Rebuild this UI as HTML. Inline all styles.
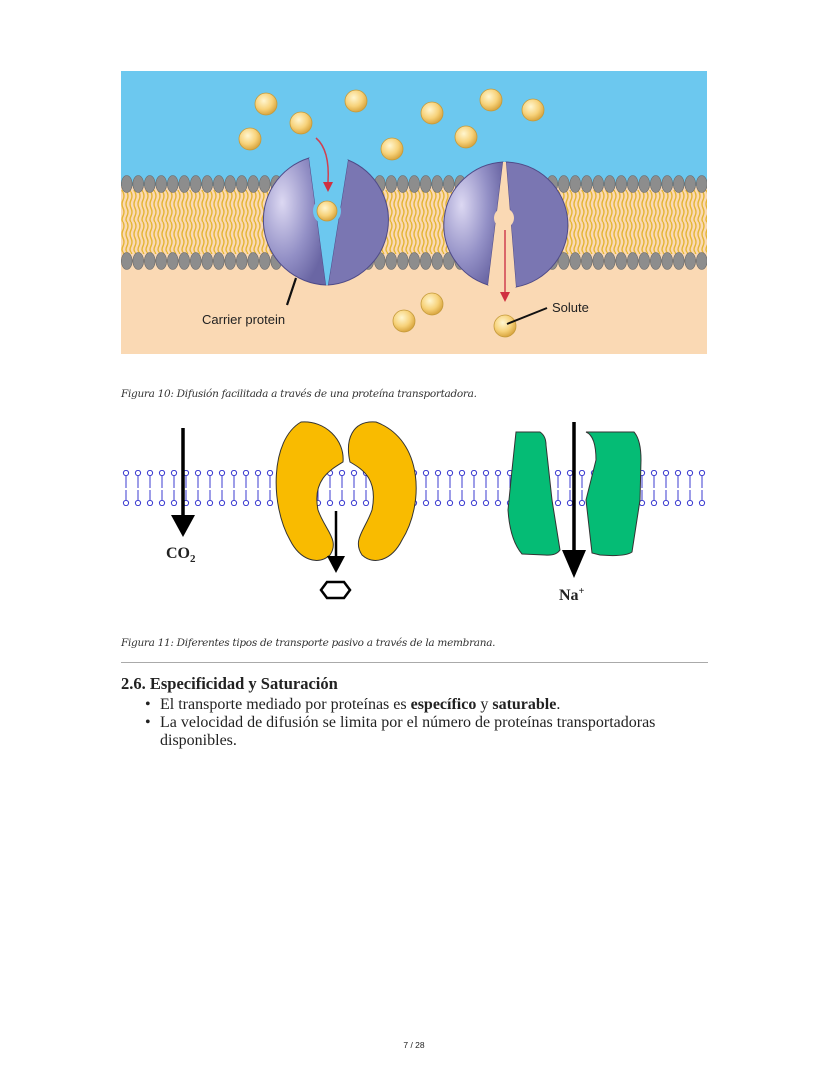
<!DOCTYPE html>
<html><head><meta charset="utf-8"><style>
body{margin:0;background:#fff;width:828px;height:1071px;position:relative;font-family:"Liberation Serif",serif;}
.cap{position:absolute;left:121px;font-style:italic;font-size:10.5px;color:#333;font-family:"DejaVu Serif","Liberation Serif",serif;letter-spacing:-0.3px}
.t{position:absolute;font-family:"Liberation Serif",serif;color:#222}
</style></head><body>
<svg style="position:absolute;left:0;top:0" width="828" height="640">
<defs>
<radialGradient id="ball" cx="40%" cy="35%" r="65%"><stop offset="0" stop-color="#fff6d0"/><stop offset="0.6" stop-color="#f7d27a"/><stop offset="1" stop-color="#d9a640"/></radialGradient>
<radialGradient id="prot" cx="30%" cy="35%" r="75%"><stop offset="0" stop-color="#dcd8f2"/><stop offset="0.6" stop-color="#9390c6"/><stop offset="1" stop-color="#6a66a4"/></radialGradient>
<pattern id="headsT" x="121" y="174" width="11.5" height="20" patternUnits="userSpaceOnUse"><ellipse cx="5.75" cy="10" rx="5.4" ry="8.5" fill="#8d8d8d" stroke="#666" stroke-width="0.6"/></pattern>
<pattern id="headsB" x="121" y="251" width="11.5" height="20" patternUnits="userSpaceOnUse"><ellipse cx="5.75" cy="10" rx="5.4" ry="8.5" fill="#8d8d8d" stroke="#666" stroke-width="0.6"/></pattern>
<pattern id="tails" x="121" y="192" width="4" height="30" patternUnits="userSpaceOnUse"><path d="M2 0 q2 4 0 8 q-2 4 0 8 q2 4 0 8 q-2 4 0 6" stroke="#e5b635" fill="none" stroke-width="1.4"/></pattern>
<pattern id="bl" x="120" y="470" width="12" height="36" patternUnits="userSpaceOnUse"><circle cx="6" cy="3" r="2.6" fill="none" stroke="#3b3bd0" stroke-width="1"/><line x1="6" y1="6" x2="6" y2="18" stroke="#3b3bd0"/><circle cx="6" cy="33" r="2.6" fill="none" stroke="#3b3bd0" stroke-width="1"/><line x1="6" y1="20" x2="6" y2="30" stroke="#3b3bd0"/></pattern>
</defs>
<rect x="121" y="71" width="586" height="283" fill="#fad9b4"/>
<rect x="121" y="71" width="586" height="115" fill="#6cc8ef"/>
<rect x="121" y="190" width="586" height="64" fill="url(#tails)"/>
<rect x="121" y="174" width="586" height="20" fill="url(#headsT)"/>
<rect x="121" y="251" width="586" height="20" fill="url(#headsB)"/>
<!-- left protein -->
<path d="M309 158 A65 65 0 0 0 326 285 Z" fill="url(#prot)" stroke="#4f4b88"/>
<path d="M348 160 A65 65 0 0 1 328 285 Z" fill="#7a76b2" stroke="#4f4b88"/>
<path d="M309 158 L348 160 L328 285 L326 285 Z" fill="#6cc8ef"/>
<circle cx="327" cy="211" r="14" fill="#6cc8ef"/>
<!-- right protein -->
<path d="M503 162 A63 63 0 0 0 488 285 Z" fill="url(#prot)" stroke="#4f4b88"/>
<path d="M506 162 A63 63 0 0 1 516 287 Z" fill="#7a76b2" stroke="#4f4b88"/>
<path d="M503 162 L506 162 L516 287 L488 285 Z" fill="#fad9b4"/>
<circle cx="504" cy="218" r="10" fill="#fad9b4"/>
<path d="M316 138 Q330 150 328 182" stroke="#d04050" fill="none" stroke-width="1.5"/>
<path d="M323 182 L333 182 L328 192Z" fill="#d03040"/>
<line x1="505" y1="230" x2="505" y2="292" stroke="#d04050" stroke-width="1.5"/>
<path d="M500 292 L510 292 L505 302Z" fill="#d03040"/>
<g fill="url(#ball)" stroke="#c49a3a" stroke-width="0.8">
<circle cx="266" cy="104" r="11"/><circle cx="301" cy="123" r="11"/><circle cx="356" cy="101" r="11"/><circle cx="250" cy="139" r="11"/><circle cx="432" cy="113" r="11"/><circle cx="466" cy="137" r="11"/><circle cx="491" cy="100" r="11"/><circle cx="533" cy="110" r="11"/><circle cx="392" cy="149" r="11"/><circle cx="327" cy="211" r="10"/><circle cx="432" cy="304" r="11"/><circle cx="404" cy="321" r="11"/><circle cx="505" cy="326" r="11"/>
</g>
<line x1="296" y1="278" x2="287" y2="305" stroke="#111" stroke-width="2.2"/>
<line x1="507" y1="324" x2="547" y2="308" stroke="#111" stroke-width="2"/>
<text x="202" y="324" font-family="Liberation Sans" font-size="13" fill="#222">Carrier protein</text>
<text x="552" y="312" font-family="Liberation Sans" font-size="13" fill="#222">Solute</text>
<!-- figure 2 -->
<rect x="120" y="470" width="588" height="36" fill="url(#bl)"/>
<path d="M301 422 C325 420 345 440 343 462 C330 470 312 480 318 510 C325 530 340 540 330 555 C318 566 300 560 290 540 C270 505 270 440 301 422Z" fill="#f9bb00" stroke="#333"/>
<path d="M376 422 C352 420 345 440 350 462 C364 470 378 480 372 510 C365 530 352 540 362 555 C374 566 392 560 402 540 C424 505 424 440 376 422Z" fill="#f9bb00" stroke="#333"/>
<path d="M516 432 L540 432 Q546 436 546 445 L552 500 L560 550 Q556 556 545 555 L522 554 Q510 540 508 510 L512 470 Z" fill="#05bc75" stroke="#333"/>
<path d="M586 432 L634 432 Q641 440 641 460 L640 500 L632 552 Q625 557 600 555 L592 553 L586 500 L596 460 Q596 436 586 432Z" fill="#05bc75" stroke="#333"/>
<line x1="183" y1="428" x2="183" y2="520" stroke="#000" stroke-width="3.5"/>
<path d="M171 515 L195 515 L183 537Z" fill="#000"/>
<line x1="336" y1="511" x2="336" y2="560" stroke="#000" stroke-width="2.5"/>
<path d="M327 556 L345 556 L336 573Z" fill="#000"/>
<path d="M327 582 L344 582 L350 590 L344 598 L327 598 L321 590Z" fill="none" stroke="#000" stroke-width="2.5"/>
<line x1="574" y1="422" x2="574" y2="555" stroke="#000" stroke-width="3.5"/>
<path d="M562 550 L586 550 L574 578Z" fill="#000"/>
<text x="166" y="558" font-family="Liberation Serif" font-size="16" font-weight="bold" fill="#222">CO<tspan font-size="11" dy="4">2</tspan></text>
<text x="559" y="600" font-family="Liberation Serif" font-size="16" font-weight="bold" fill="#222">Na<tspan font-size="10" dy="-6">+</tspan></text>
</svg>
<div class="cap" style="top:388px">Figura 10: Difusión facilitada a través de una proteína transportadora.</div>
<div class="cap" style="top:637px">Figura 11: Diferentes tipos de transporte pasivo a través de la membrana.</div>
<div style="position:absolute;left:121px;top:662px;width:587px;border-top:1.5px solid #aaa"></div>
<div class="t" style="left:121px;top:674px;font-size:16.5px;font-weight:bold">2.6. Especificidad y Saturación</div>
<div class="t" style="left:160px;top:696px;font-size:16px;line-height:18px">
<div><span style="position:absolute;left:-15px">•</span>El transporte mediado por proteínas es <b>específico</b> y <b>saturable</b>.</div>
<div><span style="position:absolute;left:-15px">•</span>La velocidad de difusión se limita por el número de proteínas transportadoras<br>disponibles.</div>
</div>
<div class="t" style="left:0;width:828px;text-align:center;top:1040px;font-size:8.5px;font-family:'Liberation Sans',sans-serif">7 / 28</div>
</body></html>
